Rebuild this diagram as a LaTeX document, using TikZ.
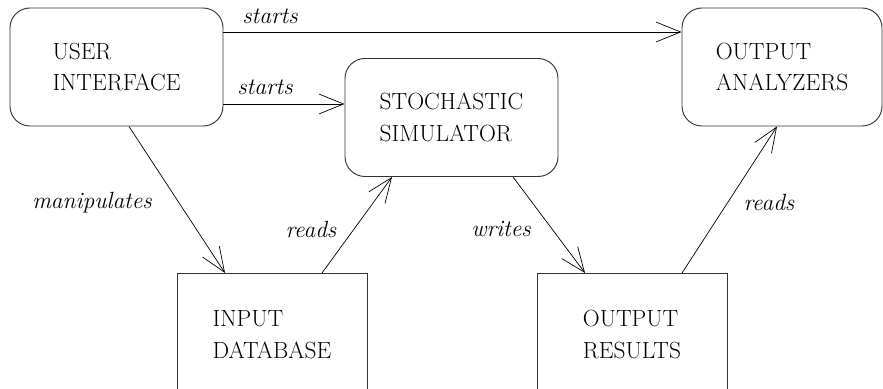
\documentclass[tikz,border=0pt]{standalone}
\usepackage{fontspec}
\usetikzlibrary{arrows.meta,calc}

\begin{document}
\begin{tikzpicture}[x=0.3mm, y=-0.3mm,
    every node/.style={font=\fontsize{20}{27}\selectfont\addfontfeatures{LetterSpace=3}, align=left},
    rbox/.style={draw=black!80, line width=0.8pt, rounded corners=17pt, minimum width=#1*0.3mm, minimum height=118*0.3mm},
    sbox/.style={draw=black!80, line width=0.8pt, minimum width=190*0.3mm, minimum height=122*0.3mm, anchor=north},
    lbl/.style={font=\fontsize{20}{24}\selectfont\itshape\addfontfeatures{LetterSpace=3}, inner sep=0pt},
    link/.style={-{Straight Barb[length=21pt,width=17pt]}, line width=0.6pt}]
    \clip (0,0) rectangle (883,388);

    \node [rbox=213] (ui) at (116.5,67) {USER\\INTERFACE};
    \node [rbox=213] (sim) at (451.5,117.5) {STOCHASTIC\\SIMULATOR};
    \node [rbox=200] (ana) at (782,67) {OUTPUT\\ANALYZERS};
    \node [sbox] (db) at (272,273) {INPUT\\DATABASE};
    \node [sbox] (res) at (632,273) {OUTPUT\\RESULTS};

    \draw [link] ([yshift=10.5mm]ui.east) -- ([yshift=10.5mm]ui.east -| ana.west);
    \draw [link] ([yshift=-11.1mm]ui.east) -- ([yshift=-11.1mm]ui.east -| sim.west);
    \draw [link] ([xshift=3.75mm]ui.south) -- ([xshift=-14.1mm]db.north);
    \draw [link] ([xshift=15mm]db.north) -- ([xshift=-17.85mm]sim.south);
    \draw [link] ([xshift=18.45mm]sim.south) -- ([xshift=-14.1mm]res.north);
    \draw [link] ([xshift=15mm]res.north) -- ([xshift=-1.5mm]ana.south);

    % edge labels
    \node [lbl] (l1) at (270,16) {starts};
    \node [lbl] (l2) at (265,87) {starts};
    \node [lbl] (l3) at (92,203) {manipulates};
    \node [lbl] (l4) at (311,229) {reads};
    \node [lbl] (l5) at (501,229) {writes};
    \node [lbl] (l6) at (769,202) {reads};
\end{tikzpicture}
\end{document}
